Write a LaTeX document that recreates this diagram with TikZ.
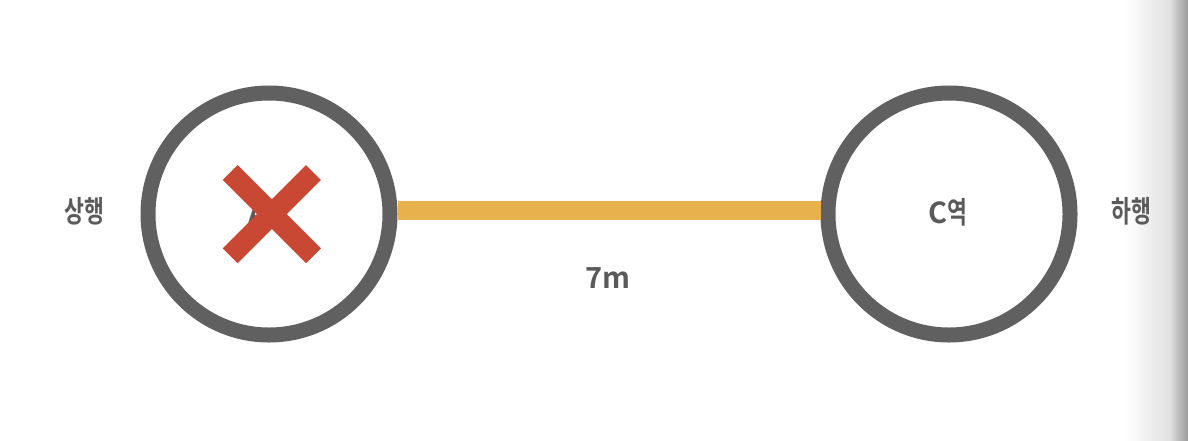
\documentclass[tikz,border=0pt]{standalone}
\usepackage{fontspec}
\newfontfamily\kr[FakeStretch=0.72]{Noto Sans CJK KR Bold}
\newfontfamily\krl{Noto Sans CJK KR Bold}
\definecolor{ringgray}{HTML}{606060}
\definecolor{txtgray}{HTML}{5A5A5A}
\definecolor{trackorange}{HTML}{E9B04E}
\definecolor{xred}{HTML}{C94834}
\tikzset{
  station/.style={circle, draw=ringgray, line width=15pt, fill=white, minimum size=242pt, inner sep=0pt},
  lbl/.style={text=txtgray, font=\kr\fontsize{30}{30}\selectfont, inner sep=0pt},
  track/.style={draw=trackorange, line width=19pt},
  cross/.style={draw=xred, line width=21pt},
}
\newcommand{\lat}[1]{{\krl\fontsize{29}{29}\selectfont #1}}
\begin{document}
\begin{tikzpicture}[x=1pt,y=-1pt]
\useasboundingbox (0,0) rectangle (1188,440);
\fill[white] (0,0) rectangle (1188,440);
\shade[left color=white, right color=black!12, shading angle=90] (1125,0) rectangle (1170,440);
\shade[left color=black!12, right color=black!40, shading angle=90] (1169.5,0) rectangle (1188,440);
\node[station] (A) at (269,214) {};
\node[station] (C) at (949,214) {};
\coordinate (Ae) at (A.east |- 0,210.5);
\coordinate (Cw) at (C.west |- 0,210.5);
\draw[track] (Ae) -- (Cw);
\node[lbl] (Atxt) at (268,213) {\lat{A}역};
\node[lbl] (Ctxt) at (948,212) {\lat{C}역};
\node[lbl] (up) at (84,211) {상행};
\node[lbl] (down) at (1131,211) {하행};
\node[lbl] (dist) at (608,278) {\lat{7m}};
\coordinate (x1) at (230.2,172.5);
\coordinate (x2) at (313.5,255.8);
\coordinate (x3) at (230.2,255.8);
\coordinate (x4) at (313.5,172.5);
\draw[cross] (x1) -- (x2);
\draw[cross] (x3) -- (x4);
\end{tikzpicture}
\end{document}
